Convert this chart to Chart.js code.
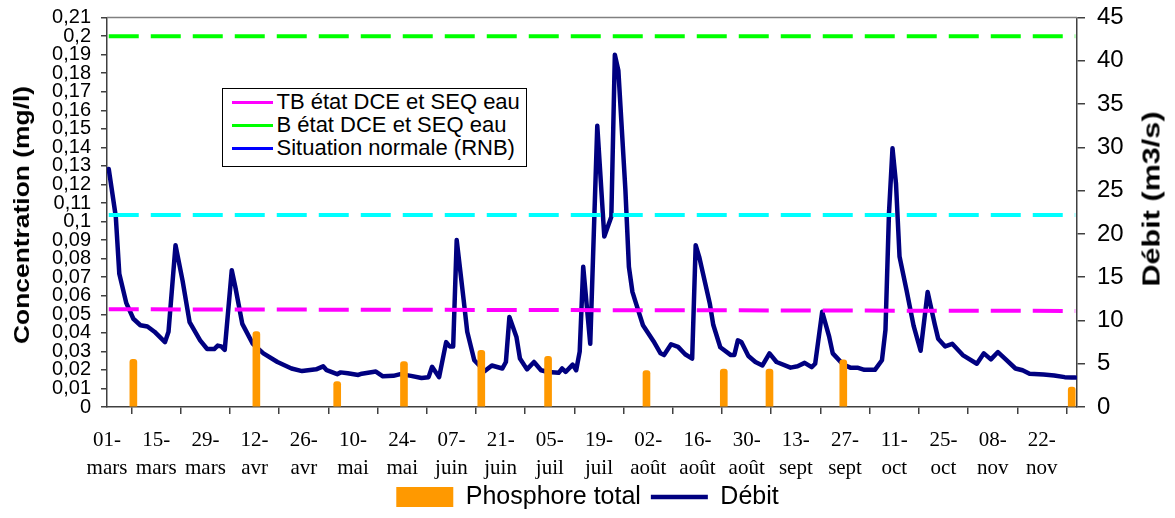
<!DOCTYPE html>
<html lang="fr">
<head>
<meta charset="utf-8">
<title>Phosphore total et débit</title>
<script src="https://cdn.jsdelivr.net/npm/chart.js@4.4.1/dist/chart.umd.min.js"></script>
<style>
  html, body { margin: 0; padding: 0; background: #fff; }
  #cadre { position: relative; width: 1175px; height: 518px; overflow: hidden; }
  #graphique { position: absolute; left: 0; top: 0; }
  .titre-axe {
    position: absolute; white-space: nowrap; color: #000;
    font-family: "Liberation Sans", Arial, sans-serif; font-weight: bold;
  }
  #titre-conc { left: 22px; top: 215px; font-size: 22px; transform: translate(-50%, -50%) rotate(-90deg) scaleX(1.2); }
  #titre-debit { left: 1152px; top: 199px; font-size: 23px; transform: translate(-50%, -50%) rotate(-90deg) scaleX(1.33); }
  #legende-seuils {
    position: absolute; left: 222px; top: 88px; width: 303px; height: 77px;
    border: 1.5px solid #000; background: #fff;
    font-family: "Liberation Sans", Arial, sans-serif; font-size: 22px; color: #000;
  }
  #legende-seuils .ligne { position: absolute; left: 8.5px; height: 22px; line-height: 22px; white-space: nowrap; }
  #legende-seuils .trait { display: inline-block; width: 41px; height: 3px; vertical-align: middle; margin-right: 4px; }
</style>
</head>
<body>
<div id="cadre">
  <canvas id="graphique" width="1175" height="518"></canvas>
  <div class="titre-axe" id="titre-conc">Concentration (mg/l)</div>
  <div class="titre-axe" id="titre-debit">Débit (m3/s)</div>
  <div id="legende-seuils">
    <div class="ligne" style="top:1.5px"><span class="trait" style="background:#ff00ff"></span>TB état DCE et SEQ eau</div>
    <div class="ligne" style="top:24.5px"><span class="trait" style="background:#00ff00"></span>B état DCE et SEQ eau</div>
    <div class="ligne" style="top:47.5px"><span class="trait" style="background:#0000ff"></span>Situation normale (RNB)</div>
  </div>
</div>
<script>
// jours comptés depuis le 01-mars
var libellesJours = ['01-','15-','29-','12-','26-','10-','24-','07-','21-','05-','19-','02-','16-','30-','13-','27-','11-','25-','08-','22-'];
var libellesMois = ['mars','mars','mars','avr','avr','mai','mai','juin','juin','juil','juil','août','août','août','sept','sept','oct','oct','nov','nov'];
var pasLibelles = 14;

// Phosphore total (mg/l)
var phosphoreJours = [7, 42, 65, 84, 106, 125, 153, 175, 188, 209, 274];
var phosphoreTotal = [0.0257, 0.0407, 0.0137, 0.0245, 0.0305, 0.0273, 0.0197, 0.0205, 0.0205, 0.0255, 0.0108];

// Débit (m3/s)
var debitJours = [0,2,3,5,7,9,11,13,16,17,19,21,23,26,28,30,31,32,33,35,36,38,41,44,48,52,55,59,61,62,65,66,68,71,72,76,78,81,83,86,89,91,92,94,96,97,98,99,101,102,104,107,109,112,113,114,116,117,119,121,123,125,128,129,130,132,133,134,135,137,139,141,143,144,145,147,148,149,150,152,155,157,158,160,162,164,166,167,168,171,172,174,177,178,179,180,182,184,186,188,190,194,196,198,200,201,203,205,206,209,211,213,215,218,220,221,222,223,224,225,227,229,231,233,235,236,238,240,243,247,249,251,253,255,258,260,262,266,269,272,274,275];
var debitValeurs = [27.5,22.0,15.4,12.0,10.2,9.45,9.3,8.7,7.5,8.7,18.7,14.6,9.8,7.7,6.7,6.7,7.1,7.0,6.6,15.8,13.9,9.6,7.3,6.2,5.2,4.45,4.15,4.35,4.7,4.25,3.8,4.0,3.9,3.7,3.85,4.1,3.55,3.6,3.8,3.6,3.35,3.45,4.65,3.45,7.5,7.0,7.0,19.3,12.3,8.7,5.4,4.15,4.8,4.45,5.2,10.4,8.1,5.6,4.35,5.2,4.25,4.05,3.95,4.45,4.05,4.9,4.25,6.4,16.2,7.3,32.5,19.7,22.0,40.7,38.9,25.1,16.2,13.3,12.0,9.45,7.6,6.2,6.0,7.25,6.95,6.1,5.6,18.7,17.35,12.0,9.5,6.9,6.0,6.0,7.7,7.5,5.9,5.2,4.8,6.2,5.2,4.55,4.7,5.1,4.6,5.0,11.0,8.1,6.2,4.9,4.55,4.55,4.3,4.3,5.4,8.9,22.4,29.9,25.8,17.4,13.5,9.4,6.5,13.3,9.6,7.9,7.0,7.3,6.0,5.0,6.2,5.5,6.35,5.6,4.45,4.25,3.85,3.75,3.65,3.45,3.4,3.4];

// seuils (mg/l), début et fin de période
var seuilJours = [0, 275];
var seuilTB = [0.0527, 0.0518];
var seuilB = [0.2, 0.2];
var seuilRNB = [0.1036, 0.1036];

function points(xs, ys) {
  return xs.map(function (x, i) { return { x: x, y: ys[i] }; });
}

var bordureHaut = {
  id: 'bordureHaut',
  beforeDatasetsDraw: function (chart) {
    var ctx = chart.ctx, a = chart.chartArea;
    ctx.save();
    ctx.strokeStyle = '#808080';
    ctx.lineWidth = 1.5;
    ctx.beginPath();
    ctx.moveTo(a.left, a.top);
    ctx.lineTo(a.right, a.top);
    ctx.stroke();
    ctx.restore();
  }
};

var seuilStyle = { borderWidth: 4, borderDash: [30, 12], pointRadius: 0, yAxisID: 'yConc', order: 1, fill: false };

new Chart(document.getElementById('graphique'), {
  type: 'line',
  data: {
    datasets: [
      {
        type: 'bar', label: 'Phosphore total',
        data: points(phosphoreJours, phosphoreTotal),
        backgroundColor: '#ff9900', barThickness: 7,
        borderRadius: { topLeft: 3, topRight: 3 }, borderSkipped: 'bottom',
        yAxisID: 'yConc', order: 0
      },
      {
        label: 'Débit',
        data: points(debitJours, debitValeurs),
        borderColor: '#000080', backgroundColor: '#000080',
        borderWidth: 4.5, pointRadius: 0, tension: 0,
        borderJoinStyle: 'round', borderCapStyle: 'round',
        yAxisID: 'yDebit', order: 2
      },
      Object.assign({ label: 'TB état DCE et SEQ eau', data: points(seuilJours, seuilTB), borderColor: '#ff00ff' }, seuilStyle),
      Object.assign({ label: 'B état DCE et SEQ eau', data: points(seuilJours, seuilB), borderColor: '#00ff00' }, seuilStyle),
      Object.assign({ label: 'Situation normale (RNB)', data: points(seuilJours, seuilRNB), borderColor: '#00ffff' }, seuilStyle)
    ]
  },
  options: {
    responsive: false,
    animation: false,
    devicePixelRatio: 1,
    layout: { padding: { top: 17.6, right: 0, bottom: -1.5, left: 0 } },
    plugins: {
      tooltip: { enabled: false },
      legend: {
        position: 'bottom',
        labels: {
          color: '#000',
          font: { family: 'Liberation Sans', size: 25 },
          usePointStyle: true, pointStyleWidth: 57, boxHeight: 20, padding: 3,
          generateLabels: function (chart) {
            var items = Chart.defaults.plugins.legend.labels.generateLabels(chart);
            return items.filter(function (it) { return it.datasetIndex < 2; }).map(function (it) {
              if (it.datasetIndex === 0) {
                it.pointStyle = 'rect'; it.lineWidth = 0; it.fillStyle = '#ff9900';
                it.text = it.text + ' ';
              } else {
                it.pointStyle = 'line'; it.lineWidth = 4.5; it.strokeStyle = '#000080';
              }
              return it;
            });
          }
        }
      }
    },
    scales: {
      x: {
        type: 'linear', min: -0.5, max: 275.5, offset: false,
        afterBuildTicks: function (s) {
          s.ticks = libellesJours.map(function (_, i) { return { value: i * pasLibelles - 0.5 }; });
        },
        afterFit: function (s) { s.height = 74.5; },
        ticks: {
          autoSkip: false, maxRotation: 0, minRotation: 0, padding: 13, color: '#000',
          font: { family: 'Liberation Serif', size: 21, lineHeight: 1.33 },
          callback: function (v, i) { return [libellesJours[i], libellesMois[i]]; }
        },
        grid: { drawOnChartArea: false, drawTicks: true, tickLength: 7, color: '#404040', lineWidth: 1.5 },
        border: { display: true, color: '#404040', width: 1.5 }
      },
      yConc: {
        position: 'left', min: 0, max: 0.21,
        afterFit: function (s) { s.width = 107; },
        ticks: {
          stepSize: 0.01, autoSkip: false, padding: 10, color: '#000',
          font: { family: 'Liberation Sans', size: 20, lineHeight: 0.7 },
          callback: function (v) { return String(Math.round(v * 100) / 100).replace('.', ','); }
        },
        grid: { drawOnChartArea: false, drawTicks: true, tickLength: 6, color: '#404040', lineWidth: 1.5 },
        border: { display: true, color: '#404040', width: 1.5 }
      },
      yDebit: {
        position: 'right', min: 0, max: 45,
        afterFit: function (s) { s.width = 98; },
        ticks: {
          stepSize: 5, autoSkip: false, padding: 12, color: '#000',
          font: { family: 'Liberation Sans', size: 24, lineHeight: 0.45 }
        },
        grid: { drawOnChartArea: false, drawTicks: true, tickLength: 8, color: '#404040', lineWidth: 1.5 },
        border: { display: true, color: '#404040', width: 1.5 }
      }
    }
  },
  plugins: [bordureHaut]
});
</script>
</body>
</html>
